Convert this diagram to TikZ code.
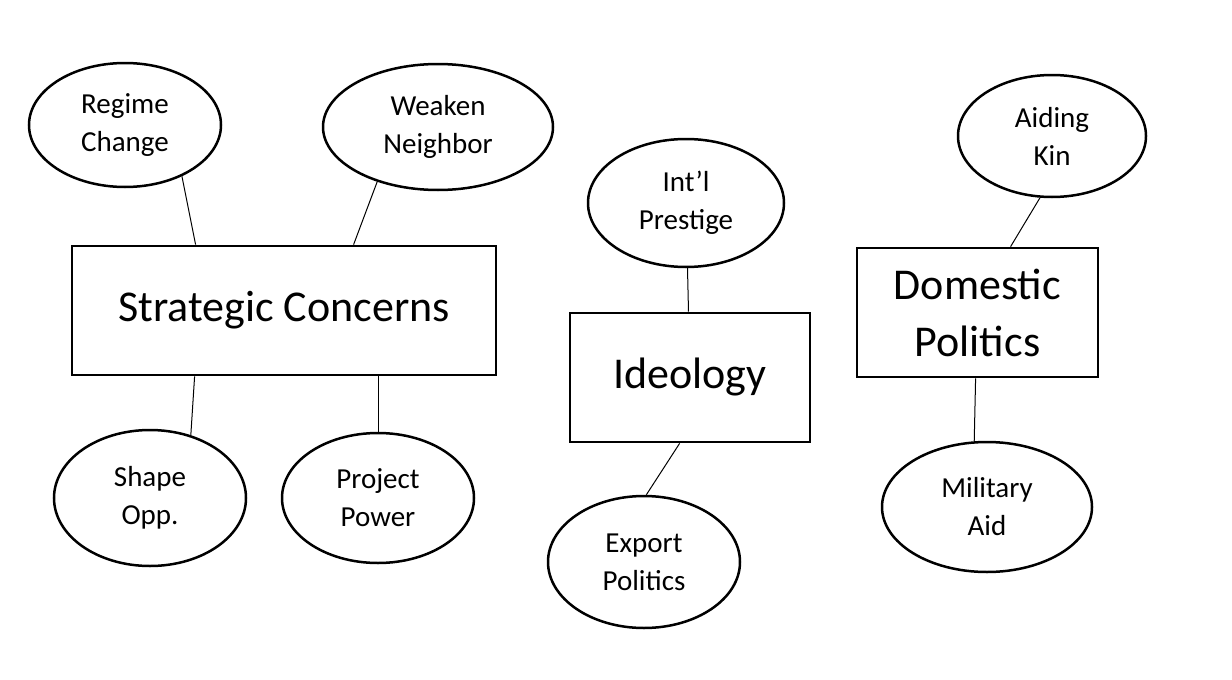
\documentclass[tikz,border=0pt]{standalone}
\usepackage{fontspec}
\setmainfont{Carlito}
\usepackage{tikz}
\usetikzlibrary{shapes.geometric}

\begin{document}
\begin{tikzpicture}[x=1pt,y=-1pt,
    bubble/.style={draw, ellipse, line width=2.5pt, inner sep=0pt, align=center,
        font=\fontsize{29}{38}\selectfont},
    topic/.style={draw, rectangle, line width=2.8pt, inner sep=0pt, align=center,
        minimum height=129pt, font=\fontsize{44}{57}\selectfont},
    link/.style={line width=1pt}]
          \useasboundingbox (0,0) rectangle (1232,680);

          % % MAIN TOPICS
          \node[topic, minimum width=424pt] (sc) at (284,310.5) {Strategic Concerns};
          \node[topic, minimum width=240pt] (id) at (690,377.5) {Ideology};
          \node[topic, minimum width=241pt] (dp) at (977.5,312.5) {Domestic\\Politics};

          % % THE REASONS AROUND THEM
          \node[bubble, minimum width=192pt, minimum height=124pt] (rc) at (125,125) {Regime\\Change};
          \node[bubble, minimum width=230pt, minimum height=126pt] (wn) at (438,127) {Weaken\\Neighbor};
          \node[bubble, minimum width=192pt, minimum height=136pt] (so) at (150,498) {Shape\\Opp.};
          \node[bubble, minimum width=192pt, minimum height=130pt] (pp) at (378,498) {Project\\Power};
          \node[bubble, minimum width=196pt, minimum height=128pt] (ip) at (686,203) {Int’l\\Prestige};
          \node[bubble, minimum width=192pt, minimum height=132pt] (ep) at (644,562) {Export\\Politics};
          \node[bubble, minimum width=188pt, minimum height=122pt] (ak) at (1052,136) {Aiding\\Kin};
          \node[bubble, minimum width=210pt, minimum height=130pt] (ma) at (987,507) {Military\\Aid};

          \draw[link] (rc.-42) -- ([xshift=125pt]sc.north west);
          \draw[link] (wn.-138) -- ([xshift=283pt]sc.north west);
          \draw[link] ([xshift=124pt]sc.south west) -- (so.57);
          \draw[link] (sc.south -| pp.north) -- (pp.north);
          \draw[link] (ip) -- (id);
          \draw[link] ([xshift=111pt]id.south west) -- (ep.88);
          \draw[link] (ak.-101) -- ([xshift=155pt]dp.north west);
          \draw[link] ([xshift=120pt]dp.south west) -- (ma.101);
        \end{tikzpicture}
\end{document}
